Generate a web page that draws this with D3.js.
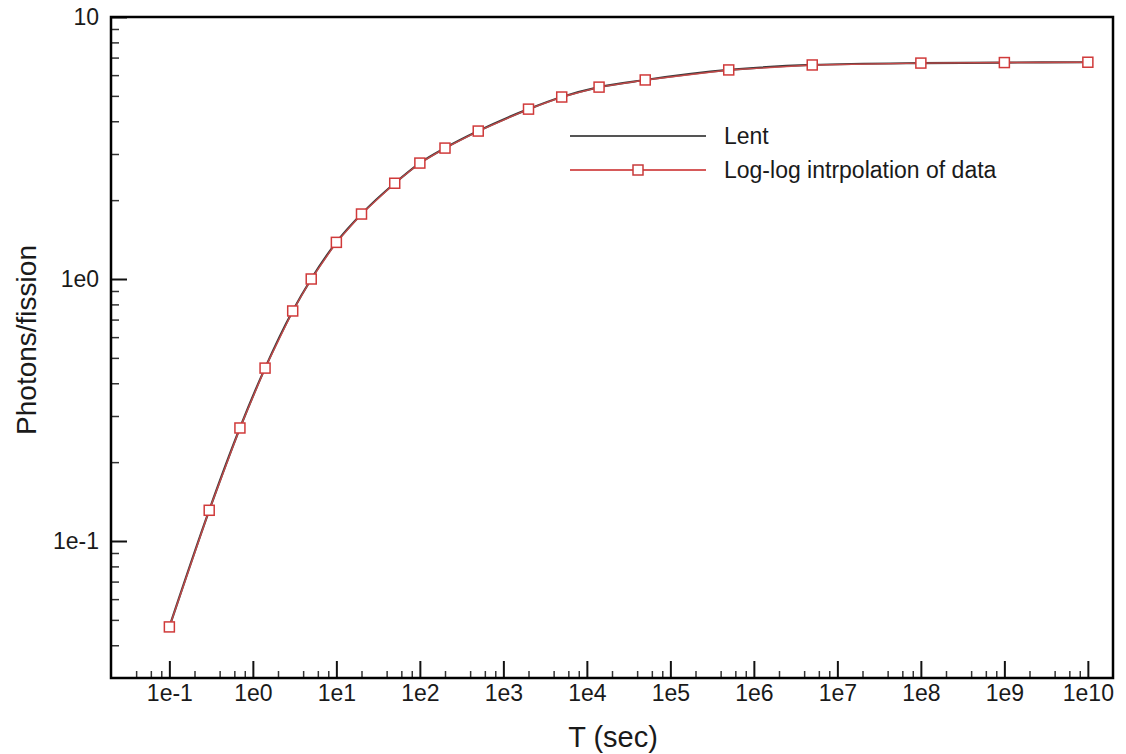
<!DOCTYPE html>
<html>
<head>
<meta charset="utf-8">
<script src="https://cdn.jsdelivr.net/npm/d3@7"></script>
<style>
  body { margin: 0; background: #fff; }
  svg text { font-family: "Liberation Sans", Arial, sans-serif; fill: #1a1a1a; }
</style>
</head>
<body>
<svg id="chart" width="1126" height="754"></svg>
<script>
// data
var times = [0.1, 0.3, 0.7, 1.4, 3, 5, 10, 20, 50, 100, 200, 500, 2000, 5000, 1.4e4, 5e4, 5e5, 5e6, 1e8, 1e9, 1e10];
var photons = [0.047, 0.131, 0.27, 0.457, 0.755, 1.0, 1.38, 1.77, 2.32, 2.77, 3.16, 3.67, 4.45, 4.95, 5.4, 5.75, 6.28, 6.56, 6.67, 6.7, 6.72];
var lentPhotons = [0.047, 0.131, 0.27, 0.457, 0.755, 1.0, 1.38, 1.77, 2.32, 2.77, 3.16, 3.67, 4.45, 4.95, 5.4, 5.75, 6.28, 6.56, 6.67, 6.7, 6.72];
var xMajor = [1e-1, 1e0, 1e1, 1e2, 1e3, 1e4, 1e5, 1e6, 1e7, 1e8, 1e9, 1e10];
var xMajorLabels = ["1e-1", "1e0", "1e1", "1e2", "1e3", "1e4", "1e5", "1e6", "1e7", "1e8", "1e9", "1e10"];
var yMajor = [1e-1, 1e0, 1e1];
var yMajorLabels = ["1e-1", "1e0", "10"];
var seriesNames = ["Lent", "Log-log intrpolation of data"];

var svg = d3.select("#chart"),
    margin = { top: 17, right: 13, bottom: 76, left: 111 },
    width = +svg.attr("width") - margin.left - margin.right,
    height = +svg.attr("height") - margin.top - margin.bottom;

var x = d3.scaleLog().domain([0.02, 2e10]).range([0, width]),
    y = d3.scaleLog().domain([0.03, 10]).range([height, 0]);

var g = svg.append("g")
    .attr("transform", "translate(" + margin.left + "," + margin.top + ")");

// minor ticks: x at 2,4,6,8 ; y at 2..9
var xMinor = [];
for (var e = -2; e <= 10; e++) {
    [2, 4, 6, 8].forEach(function(m) {
        var v = m * Math.pow(10, e);
        if (v > 0.02 && v < 2e10) xMinor.push(v);
    });
}
var yMinor = [];
for (var e2 = -2; e2 <= 0; e2++) {
    [2, 3, 4, 5, 6, 7, 8, 9].forEach(function(m) {
        var v = m * Math.pow(10, e2);
        if (v > 0.03 && v < 10) yMinor.push(v);
    });
}

var xAxis = d3.axisBottom(x).tickValues(xMajor)
    .tickFormat(function(d, i) { return xMajorLabels[i]; })
    .tickSize(-17).tickPadding(7);
var xAxisMinor = d3.axisBottom(x).tickValues(xMinor).tickFormat("").tickSize(-7);
var yAxis = d3.axisLeft(y).tickValues(yMajor)
    .tickFormat(function(d, i) { return yMajorLabels[i]; })
    .tickSize(-16).tickPadding(12);
var yAxisMinor = d3.axisLeft(y).tickValues(yMinor).tickFormat("").tickSize(-8);

g.append("g").attr("class", "axis axis--x")
    .attr("transform", "translate(0," + height + ")")
    .call(xAxis);
g.append("g").attr("class", "axis axis--x-minor")
    .attr("transform", "translate(0," + height + ")")
    .call(xAxisMinor);
g.append("g").attr("class", "axis axis--y").call(yAxis);
g.append("g").attr("class", "axis axis--y-minor").call(yAxisMinor);

g.selectAll(".axis .domain").remove();
g.selectAll(".axis line").attr("stroke", "#111").attr("stroke-width", 2);
g.selectAll(".axis--x-minor line, .axis--y-minor line").attr("stroke", "#333").attr("stroke-width", 1.5);
g.selectAll(".axis text").attr("font-size", 23).attr("fill", "#1a1a1a")
    .attr("font-family", "'Liberation Sans', Arial, sans-serif");

// frame
g.append("rect")
    .attr("width", width).attr("height", height)
    .attr("fill", "none").attr("stroke", "#000").attr("stroke-width", 2.5);

var lentLine = d3.line()
    .curve(d3.curveMonotoneX)
    .x(function(d, i) { return x(times[i]); })
    .y(function(d) { return y(d); });

var dataLine = d3.line()
    .x(function(d, i) { return x(times[i]); })
    .y(function(d) { return y(d); });

g.append("path").datum(lentPhotons)
    .attr("fill", "none").attr("stroke", "#3a3a3a").attr("stroke-width", 2.2)
    .attr("d", lentLine);

g.append("path").datum(photons)
    .attr("fill", "none").attr("stroke", "#d24a4a").attr("stroke-width", 1.4)
    .attr("opacity", 0.9)
    .attr("d", dataLine);

g.selectAll(".pt").data(photons).enter().append("rect")
    .attr("class", "pt")
    .attr("x", function(d, i) { return x(times[i]) - 5; })
    .attr("y", function(d) { return y(d) - 5; })
    .attr("width", 10).attr("height", 10)
    .attr("fill", "#fff").attr("stroke", "#d03a3a").attr("stroke-width", 1.5);

// legend
var legend = svg.append("g").attr("transform", "translate(570,136)");
legend.append("line").attr("x1", 0).attr("x2", 136).attr("y1", 0).attr("y2", 0)
    .attr("stroke", "#555").attr("stroke-width", 2);
legend.append("text").attr("x", 154).attr("y", 8).attr("font-size", 23).text(seriesNames[0]);
legend.append("line").attr("x1", 0).attr("x2", 136).attr("y1", 34).attr("y2", 34)
    .attr("stroke", "#d65a5a").attr("stroke-width", 1.8);
legend.append("rect").attr("x", 63).attr("y", 29).attr("width", 10).attr("height", 10)
    .attr("fill", "#fff").attr("stroke", "#c83a3a").attr("stroke-width", 1.5);
legend.append("text").attr("x", 154).attr("y", 42).attr("font-size", 23).text(seriesNames[1]);

// axis titles
svg.append("text")
    .attr("x", 613).attr("y", 747)
    .attr("text-anchor", "middle").attr("font-size", 29)
    .text("T (sec)");
svg.append("text")
    .attr("transform", "translate(36,340) rotate(-90)")
    .attr("text-anchor", "middle").attr("font-size", 28)
    .text("Photons/fission");
</script>
</body>
</html>
